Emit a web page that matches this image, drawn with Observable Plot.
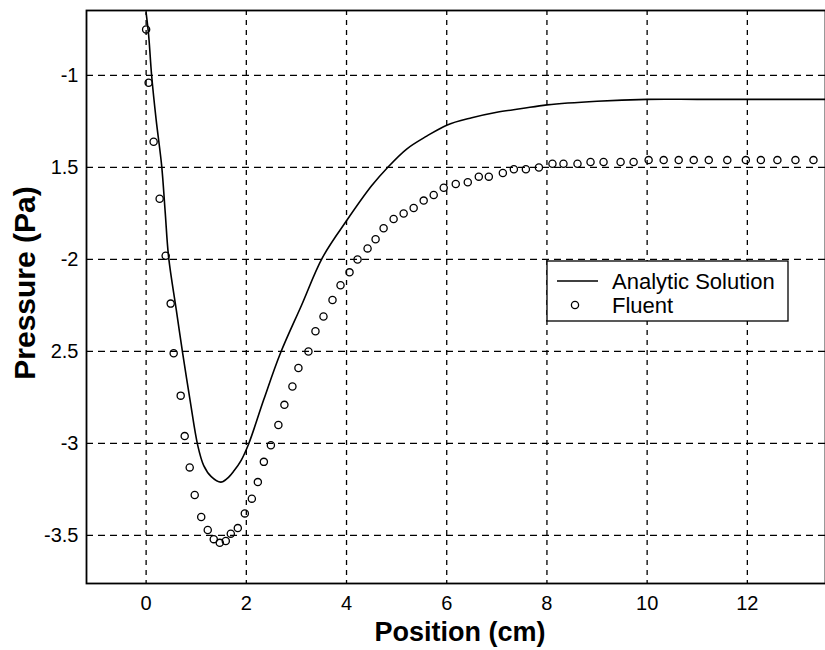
<!DOCTYPE html>
<html>
<head>
<meta charset="utf-8">
<script src="https://cdn.jsdelivr.net/npm/d3@7"></script>
<script src="https://cdn.jsdelivr.net/npm/@observablehq/plot@0.6"></script>
<style>
  html, body { margin: 0; padding: 0; background: white; }
  #chart { width: 825px; height: 650px; }
</style>
</head>
<body>
<div id="chart"></div>
<script>
// ---- data ----
const analyticX = [0, 0.05, 0.11, 0.20, 0.31, 0.38, 0.45, 0.60, 0.73, 0.88, 1.03, 1.15, 1.30, 1.49, 1.62, 1.75, 1.90, 2.05, 2.35, 2.68, 3.10, 3.52, 4.00, 4.50, 4.82, 5.20, 5.60, 6.00, 6.50, 7.00, 7.50, 8.00, 9.00, 10.0, 11.0, 12.0, 13.6];
const analyticY = [-0.66, -0.78, -1.00, -1.24, -1.49, -1.74, -1.99, -2.27, -2.51, -2.77, -3.01, -3.12, -3.18, -3.21, -3.19, -3.15, -3.09, -3.00, -2.76, -2.51, -2.25, -1.99, -1.79, -1.60, -1.50, -1.40, -1.33, -1.27, -1.23, -1.20, -1.18, -1.16, -1.14, -1.13, -1.13, -1.13, -1.13];

const fluentX = [0.00, 0.05, 0.15, 0.27, 0.39, 0.49, 0.55, 0.69, 0.77, 0.87, 0.97, 1.10, 1.23, 1.35, 1.47, 1.59, 1.69, 1.83, 1.97, 2.11, 2.23, 2.35, 2.49, 2.64, 2.76, 2.92, 3.04, 3.24, 3.38, 3.54, 3.72, 3.88, 4.06, 4.22, 4.42, 4.58, 4.74, 4.94, 5.14, 5.34, 5.54, 5.74, 5.94, 6.18, 6.42, 6.64, 6.84, 7.12, 7.34, 7.58, 7.84, 8.11, 8.33, 8.61, 8.87, 9.13, 9.47, 9.73, 10.03, 10.33, 10.63, 10.93, 11.23, 11.60, 11.97, 12.27, 12.60, 12.96, 13.32];
const fluentY = [-0.75, -1.04, -1.36, -1.67, -1.98, -2.24, -2.51, -2.74, -2.96, -3.13, -3.28, -3.40, -3.47, -3.52, -3.54, -3.53, -3.49, -3.46, -3.38, -3.30, -3.21, -3.10, -3.01, -2.90, -2.79, -2.69, -2.59, -2.50, -2.39, -2.31, -2.22, -2.14, -2.07, -2.00, -1.94, -1.89, -1.83, -1.78, -1.75, -1.72, -1.68, -1.65, -1.61, -1.59, -1.58, -1.55, -1.55, -1.53, -1.51, -1.51, -1.50, -1.48, -1.48, -1.48, -1.47, -1.47, -1.47, -1.47, -1.46, -1.46, -1.46, -1.46, -1.46, -1.46, -1.46, -1.46, -1.46, -1.46, -1.46];

const xTickValues = [0, 2, 4, 6, 8, 10, 12];
const xTickLabels = ["0", "2", "4", "6", "8", "10", "12"];
const yTickValues = [-1, -1.5, -2, -2.5, -3, -3.5];
const yTickLabels = ["-1", "1.5", "-2", "2.5", "-3", "-3.5"];

const seriesNames = ["Analytic Solution", "Fluent"];
const xLabel = "Position (cm)";
const yLabel = "Pressure (Pa)";

// ---- tables built from the arrays ----
const analytic = analyticX.map((x, i) => ({x, y: analyticY[i]}));
const fluent = fluentX.map((x, i) => ({x, y: fluentY[i]}));

const W = 825, H = 650;
const mL = 86, mR = 0, mT = 10, mB = 67;

const svg = Plot.plot({
  width: W,
  height: H,
  marginLeft: mL,
  marginRight: mR,
  marginTop: mT,
  marginBottom: mB,
  style: {
    fontFamily: "'Liberation Sans', Arial, sans-serif",
    fontSize: "20px",
    background: "white",
    color: "black",
    overflow: "visible"
  },
  x: {
    domain: [-1.19, 13.56],
    ticks: xTickValues,
    tickSize: 0,
    tickPadding: 12,
    label: null,
    tickFormat: d => xTickLabels[xTickValues.indexOf(d)]
  },
  y: {
    domain: [-3.761, -0.647],
    ticks: yTickValues,
    tickSize: 0,
    tickPadding: 8,
    label: null,
    tickFormat: d => yTickLabels[yTickValues.indexOf(d)]
  },
  marks: [
    Plot.ruleX(xTickValues, {stroke: "black", strokeWidth: 1.3, strokeDasharray: "5,5"}),
    Plot.ruleY(yTickValues, {stroke: "black", strokeWidth: 1.3, strokeDasharray: "7,5"}),
    Plot.frame({stroke: "black", strokeWidth: 1.8}),
    Plot.line(analytic, {x: "x", y: "y", stroke: "black", strokeWidth: 1.6, curve: "catmull-rom"}),
    Plot.dot(fluent, {x: "x", y: "y", r: 3.6, stroke: "black", strokeWidth: 1.3, fill: "none"})
  ]
});

document.getElementById("chart").appendChild(svg);

const s = d3.select(svg);
const font = "'Liberation Sans', Arial, sans-serif";

// axis titles
s.append("text")
  .attr("x", 460).attr("y", 641)
  .attr("text-anchor", "middle")
  .attr("font-family", font)
  .attr("font-weight", "bold")
  .attr("font-size", 27)
  .attr("fill", "black")
  .text(xLabel);

s.append("text")
  .attr("transform", "translate(35,283) rotate(-90)")
  .attr("text-anchor", "middle")
  .attr("font-family", font)
  .attr("font-weight", "bold")
  .attr("font-size", 30)
  .attr("fill", "black")
  .text(yLabel);

// legend
const lg = s.append("g");
lg.append("rect")
  .attr("x", 547).attr("y", 261).attr("width", 241).attr("height", 60)
  .attr("fill", "white").attr("stroke", "black").attr("stroke-width", 1.3);
lg.append("line")
  .attr("x1", 557).attr("x2", 598).attr("y1", 281).attr("y2", 281)
  .attr("stroke", "black").attr("stroke-width", 1.6);
lg.append("circle")
  .attr("cx", 575).attr("cy", 305).attr("r", 3.6)
  .attr("fill", "none").attr("stroke", "black").attr("stroke-width", 1.3);
[281, 305].forEach((yy, i) => {
  lg.append("text")
    .attr("x", 612).attr("y", yy).attr("dy", "0.35em")
    .attr("text-anchor", "start")
    .attr("font-family", font)
    .attr("font-size", 22)
    .attr("fill", "black")
    .text(seriesNames[i]);
});
</script>
</body>
</html>
